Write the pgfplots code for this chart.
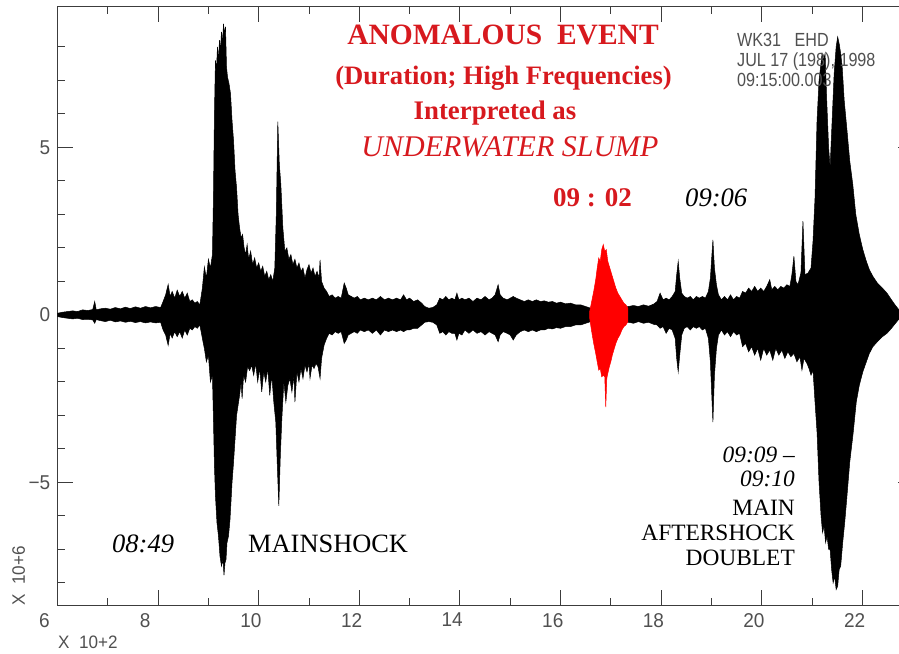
\documentclass[border=0pt]{standalone}
\usepackage{fontspec}
\setmainfont{Liberation Serif}
\newfontfamily\hfont[FakeStretch=0.85]{Liberation Sans}
\newfontfamily\tfont[FakeStretch=0.95]{Liberation Sans}
\usepackage{pgfplots}
\usepackage{pgfplotstable}
\pgfplotsset{compat=1.18}
\usepgfplotslibrary{fillbetween}
\usetikzlibrary{calc}
\definecolor{annred}{RGB}{215,25,30}
\definecolor{trred}{RGB}{255,0,0}
\definecolor{axgray}{RGB}{60,60,60}
\definecolor{lblgray}{RGB}{80,80,80}

\pgfplotstableread{
x y
6.00 0.05
6.10 0.08
6.20 0.10
6.30 0.12
6.40 0.10
6.50 0.15
6.60 0.13
6.70 0.16
6.74 0.40
6.77 0.15
6.85 0.18
6.95 0.20
7.05 0.17
7.15 0.22
7.25 0.18
7.35 0.23
7.45 0.19
7.55 0.24
7.65 0.20
7.75 0.25
7.85 0.21
7.95 0.25
8.05 0.22
8.10 0.40
8.15 0.60
8.20 0.91
8.24 0.55
8.28 0.70
8.33 0.50
8.38 0.74
8.43 0.55
8.48 0.70
8.53 0.50
8.58 0.65
8.63 0.40
8.68 0.45
8.73 0.35
8.78 0.40
8.83 0.30
8.88 0.80
8.92 1.43
8.96 1.10
9.00 1.66
9.04 1.40
9.08 1.80
9.10 3.50
9.12 6.00
9.14 7.60
9.16 7.30
9.18 8.00
9.20 7.60
9.22 8.20
9.24 7.90
9.26 8.45
9.28 8.10
9.30 8.69
9.32 8.40
9.34 8.60
9.36 7.40
9.38 7.10
9.41 6.90
9.44 6.60
9.47 5.80
9.50 5.20
9.53 4.30
9.56 3.80
9.59 3.00
9.62 2.60
9.65 2.30
9.68 2.40
9.71 2.00
9.74 1.80
9.77 2.10
9.80 1.66
9.84 1.90
9.88 1.50
9.92 1.70
9.96 1.40
10.00 1.55
10.04 1.30
10.08 1.45
10.12 1.15
10.16 1.30
10.20 1.05
10.24 1.20
10.28 1.00
10.32 1.40
10.35 3.00
10.38 5.77
10.41 4.50
10.44 3.90
10.48 2.60
10.52 1.90
10.56 2.00
10.60 1.66
10.64 1.80
10.68 1.50
10.72 1.66
10.76 1.40
10.80 1.55
10.84 1.30
10.88 1.40
10.92 1.10
10.96 1.35
11.00 1.50
11.04 1.25
11.08 1.40
11.12 1.15
11.16 1.30
11.20 1.10
11.22 1.64
11.25 1.00
11.30 0.80
11.35 0.70
11.40 0.55
11.46 0.60
11.52 0.50
11.58 0.55
11.64 0.50
11.70 0.95
11.74 0.80
11.78 0.60
11.84 0.55
11.90 0.50
11.96 0.55
12.02 0.45
12.10 0.50
12.18 0.45
12.26 0.50
12.34 0.45
12.42 0.55
12.50 0.45
12.58 0.50
12.66 0.45
12.74 0.50
12.82 0.45
12.88 0.60
12.94 0.45
13.00 0.50
13.08 0.40
13.16 0.45
13.24 0.35
13.30 0.25
13.38 0.20
13.46 0.22
13.54 0.30
13.60 0.50
13.66 0.45
13.72 0.55
13.78 0.45
13.84 0.50
13.90 0.45
13.94 0.65
13.98 0.45
14.04 0.50
14.10 0.45
14.18 0.50
14.26 0.40
14.34 0.50
14.42 0.45
14.50 0.55
14.58 0.45
14.64 0.50
14.70 0.60
14.76 0.90
14.80 0.60
14.86 0.50
14.94 0.45
15.00 0.50
15.06 0.55
15.12 0.50
15.20 0.45
15.28 0.40
15.36 0.45
15.44 0.40
15.52 0.45
15.60 0.40
15.68 0.42
15.76 0.38
15.84 0.40
15.92 0.35
16.00 0.38
16.10 0.33
16.20 0.35
16.30 0.30
16.40 0.30
16.50 0.25
16.60 0.20
16.80 0.20
17.00 0.20
17.20 0.20
17.35 0.25
17.45 0.28
17.55 0.25
17.65 0.30
17.75 0.26
17.85 0.32
17.92 0.40
17.98 0.65
18.04 0.45
18.10 0.50
18.16 0.45
18.22 0.55
18.28 0.70
18.31 1.20
18.34 1.60
18.37 1.10
18.41 0.65
18.46 0.55
18.52 0.50
18.58 0.55
18.64 0.45
18.70 0.55
18.76 0.50
18.82 0.55
18.88 0.50
18.94 0.70
18.98 1.10
19.01 1.80
19.03 2.24
19.06 1.40
19.10 0.90
19.14 0.60
19.20 0.45
19.26 0.55
19.32 0.45
19.38 0.60
19.44 0.45
19.50 0.55
19.56 0.50
19.62 0.70
19.68 0.65
19.74 0.80
19.80 0.70
19.86 0.85
19.92 0.70
19.98 0.80
20.04 0.70
20.10 0.85
20.16 1.05
20.20 0.75
20.26 0.85
20.32 0.75
20.38 0.85
20.44 0.80
20.50 0.90
20.56 0.85
20.60 1.20
20.64 1.75
20.68 1.00
20.72 0.90
20.78 1.25
20.82 2.80
20.86 1.20
20.92 1.25
20.98 1.40
21.02 2.20
21.06 3.50
21.10 5.80
21.14 7.00
21.17 7.40
21.20 7.80
21.23 7.60
21.26 7.80
21.29 6.50
21.33 5.00
21.36 4.40
21.40 5.80
21.44 7.20
21.48 8.00
21.51 8.30
21.54 8.10
21.57 7.80
21.60 7.40
21.64 6.40
21.69 5.60
21.75 4.60
21.81 3.90
21.87 3.00
21.94 2.40
22.01 1.95
22.08 1.60
22.14 1.35
22.21 1.15
22.30 0.95
22.40 0.80
22.49 0.65
22.58 0.45
22.66 0.28
22.73 0.15
}\uppertab

\pgfplotstableread{
x y
6.00 -0.05
6.10 -0.08
6.20 -0.10
6.30 -0.12
6.40 -0.10
6.50 -0.14
6.60 -0.13
6.70 -0.15
6.74 -0.25
6.77 -0.14
6.85 -0.17
6.95 -0.20
7.05 -0.16
7.15 -0.21
7.25 -0.18
7.35 -0.22
7.45 -0.19
7.55 -0.23
7.65 -0.20
7.75 -0.24
7.85 -0.21
7.95 -0.24
8.05 -0.22
8.10 -0.45
8.15 -0.60
8.20 -0.91
8.24 -0.55
8.28 -0.69
8.33 -0.50
8.38 -0.65
8.43 -0.50
8.48 -0.69
8.53 -0.45
8.58 -0.60
8.63 -0.40
8.68 -0.45
8.73 -0.35
8.78 -0.40
8.83 -0.30
8.88 -0.70
8.92 -1.00
8.96 -1.40
9.00 -1.20
9.04 -2.00
9.08 -1.80
9.10 -3.10
9.12 -4.50
9.14 -5.40
9.17 -6.20
9.20 -6.60
9.23 -7.20
9.26 -7.50
9.29 -7.30
9.31 -7.77
9.33 -7.40
9.35 -7.30
9.37 -6.80
9.40 -6.60
9.43 -6.10
9.47 -5.00
9.50 -4.40
9.53 -3.70
9.56 -3.00
9.59 -2.70
9.62 -2.40
9.65 -2.00
9.67 -2.50
9.70 -1.80
9.74 -2.00
9.78 -1.54
9.82 -1.66
9.86 -1.50
9.90 -1.80
9.94 -1.45
9.98 -2.00
10.02 -1.60
10.06 -2.30
10.10 -1.70
10.14 -2.00
10.18 -1.60
10.22 -2.40
10.26 -1.80
10.30 -2.60
10.34 -3.20
10.37 -4.50
10.40 -5.70
10.43 -4.20
10.46 -3.10
10.50 -2.00
10.54 -2.60
10.58 -2.10
10.62 -1.90
10.66 -2.30
10.70 -1.80
10.72 -2.60
10.76 -1.70
10.80 -2.00
10.84 -1.60
10.88 -1.90
10.92 -1.50
10.96 -1.70
11.00 -1.45
11.02 -1.90
11.06 -1.50
11.10 -1.60
11.14 -1.45
11.18 -1.55
11.22 -1.90
11.25 -1.30
11.30 -0.90
11.35 -0.70
11.40 -0.55
11.46 -0.60
11.52 -0.50
11.58 -0.55
11.64 -0.50
11.70 -0.85
11.74 -0.75
11.78 -0.60
11.84 -0.55
11.90 -0.50
11.96 -0.55
12.02 -0.45
12.10 -0.50
12.18 -0.45
12.26 -0.55
12.34 -0.45
12.42 -0.60
12.50 -0.45
12.58 -0.50
12.66 -0.45
12.74 -0.50
12.82 -0.45
12.88 -0.50
12.94 -0.45
13.00 -0.45
13.08 -0.40
13.16 -0.40
13.24 -0.30
13.30 -0.22
13.38 -0.20
13.46 -0.22
13.54 -0.30
13.60 -0.55
13.66 -0.50
13.72 -0.60
13.78 -0.50
13.84 -0.55
13.90 -0.55
13.94 -0.75
13.98 -0.55
14.04 -0.60
14.10 -0.45
14.18 -0.55
14.26 -0.45
14.34 -0.55
14.42 -0.50
14.50 -0.60
14.58 -0.50
14.64 -0.55
14.70 -0.60
14.76 -0.80
14.80 -0.60
14.86 -0.50
14.94 -0.55
15.00 -0.60
15.06 -0.75
15.12 -0.60
15.20 -0.50
15.28 -0.45
15.36 -0.50
15.44 -0.45
15.52 -0.50
15.60 -0.45
15.68 -0.45
15.76 -0.40
15.84 -0.42
15.92 -0.38
16.00 -0.40
16.10 -0.35
16.20 -0.35
16.30 -0.30
16.40 -0.30
16.50 -0.25
16.60 -0.20
16.80 -0.20
17.00 -0.20
17.20 -0.20
17.35 -0.22
17.45 -0.25
17.55 -0.20
17.65 -0.25
17.75 -0.22
17.85 -0.28
17.92 -0.30
17.98 -0.40
18.04 -0.35
18.10 -0.55
18.16 -0.40
18.22 -0.45
18.28 -0.70
18.31 -1.30
18.34 -1.70
18.37 -1.20
18.41 -0.60
18.46 -0.40
18.52 -0.35
18.58 -0.45
18.64 -0.35
18.70 -0.40
18.76 -0.35
18.82 -0.45
18.88 -0.40
18.94 -0.70
18.98 -1.40
19.01 -2.50
19.03 -3.20
19.06 -1.80
19.10 -1.00
19.14 -0.60
19.20 -0.45
19.26 -0.60
19.32 -0.50
19.38 -0.65
19.44 -0.50
19.50 -0.60
19.56 -0.55
19.62 -0.95
19.68 -0.85
19.74 -1.10
19.80 -0.95
19.86 -1.20
19.92 -1.00
19.98 -1.35
20.04 -1.00
20.10 -1.20
20.16 -1.05
20.22 -1.35
20.28 -1.00
20.34 -1.20
20.40 -1.05
20.46 -1.30
20.52 -1.10
20.58 -1.25
20.64 -1.15
20.70 -1.40
20.76 -1.25
20.80 -1.65
20.84 -1.30
20.90 -1.45
20.94 -1.60
20.98 -1.80
21.02 -1.65
21.06 -2.60
21.10 -3.50
21.14 -5.00
21.18 -6.00
21.21 -6.50
21.24 -6.30
21.27 -6.80
21.30 -6.60
21.33 -7.00
21.36 -7.00
21.39 -7.60
21.42 -8.00
21.45 -7.80
21.48 -8.20
21.51 -8.10
21.54 -7.60
21.57 -7.50
21.61 -6.80
21.65 -6.20
21.69 -5.50
21.75 -4.40
21.82 -3.50
21.88 -2.60
21.94 -2.10
22.01 -1.70
22.08 -1.40
22.14 -1.15
22.21 -0.95
22.30 -0.80
22.40 -0.65
22.49 -0.55
22.58 -0.40
22.66 -0.25
22.73 -0.12
}\lowertab

\pgfplotstableread{
x y
16.58 0.10
16.62 0.40
16.66 0.70
16.70 1.05
16.73 1.40
16.76 1.70
16.79 1.60
16.82 1.95
16.85 2.10
16.88 1.90
16.91 1.95
16.94 1.60
16.97 1.45
17.00 1.30
17.03 1.15
17.06 1.00
17.10 0.80
17.14 0.65
17.18 0.55
17.22 0.45
17.26 0.35
17.30 0.30
17.34 0.20
17.34 -0.20
17.30 -0.30
17.26 -0.35
17.22 -0.45
17.18 -0.60
17.14 -0.70
17.10 -0.85
17.06 -1.05
17.03 -1.20
17.00 -1.40
16.97 -1.55
16.94 -1.75
16.92 -1.90
16.90 -2.75
16.88 -1.85
16.85 -1.80
16.82 -1.85
16.79 -1.60
16.76 -1.65
16.73 -1.40
16.70 -1.15
16.66 -0.85
16.62 -0.50
16.58 -0.10
}\redpoly

\begin{document}
\begin{tikzpicture}
\begin{axis}[
  scale only axis, width=855.1pt, height=598.3pt,
  xmin=6, xmax=23, ymin=-8.66, ymax=9.2,
  axis line style={axgray, line width=0.9pt},
  xtick={6,8,10,12,14,16,18,20,22},
  xticklabels={6,8,10,12,14,16,18,20,22},
  minor xtick={7,9,11,13,15,17,19,21,23},
  ytick={-5,0,5}, yticklabels={−5,0,5},
  minor ytick={-8,-7,-6,-4,-3,-2,-1,1,2,3,4,6,7,8},
  tick align=inside,
  major tick length=15pt, minor tick length=7.5pt,
  tick style={axgray, line width=0.9pt},
  tick label style={font=\tfont\fontsize{20}{20}\selectfont, text=lblgray, inner sep=0pt},
  xticklabel style={anchor=north west, xshift=-18.5pt, yshift=-8pt},
  yticklabel style={anchor=east, xshift=-7pt},
]
\addplot[name path=U, draw=black, line width=0.5pt] table[x=x,y=y] {\uppertab};
\addplot[name path=L, draw=black, line width=0.5pt] table[x=x,y=y] {\lowertab};
\addplot[black] fill between[of=U and L];
\addplot[draw=trred, fill=trred, line width=0.5pt] table[x=x,y=y] {\redpoly} -- cycle;
\coordinate (O) at (axis cs:6,-8.66);
\end{axis}

\begin{scope}[shift={($(O)+(-57.5pt,605pt)$)}, x=1pt, y=-1pt, every node/.style={inner sep=0pt}]
  \node[anchor=base, text=annred, font=\bfseries\fontsize{29.5}{30}\selectfont] at (503,45) {ANOMALOUS\ \ EVENT};
  \node[anchor=base, text=annred, font=\bfseries\fontsize{26.6}{28}\selectfont] at (503.5,85) {(Duration; High Frequencies)};
  \node[anchor=base, text=annred, font=\bfseries\fontsize{26.8}{28}\selectfont] at (495,120) {Interpreted as};
  \node[anchor=base, text=annred, font=\itshape\fontsize{30}{30}\selectfont] at (510,157) {UNDERWATER SLUMP};
  \node[anchor=base west, text=annred, font=\bfseries\fontsize{27}{27}\selectfont] at (553,207) {09 : 02};
  \node[anchor=base west, font=\itshape\fontsize{26.6}{27}\selectfont] at (685,207) {09:06};
  \node[anchor=base east, font=\itshape\fontsize{23.4}{24}\selectfont] at (795,463) {09:09 –};
  \node[anchor=base east, font=\itshape\fontsize{23.4}{24}\selectfont] at (795,487) {09:10};
  \node[anchor=base east, font=\fontsize{23.4}{24}\selectfont] at (795,516) {MAIN};
  \node[anchor=base east, font=\fontsize{23.4}{24}\selectfont] at (795,541) {AFTERSHOCK};
  \node[anchor=base east, font=\fontsize{23.4}{24}\selectfont] at (795,565) {DOUBLET};
  \node[anchor=base west, font=\itshape\fontsize{26.5}{27}\selectfont] at (112,552) {08:49};
  \node[anchor=base west, font=\fontsize{26.4}{27}\selectfont] at (248,552) {MAINSHOCK};
  \node[anchor=base west, text=lblgray, font=\hfont\fontsize{19}{19}\selectfont] at (737,47) {WK31\ \ \ EHD};
  \node[anchor=base west, text=lblgray, font=\hfont\fontsize{19}{19}\selectfont] at (737,67) {JUL 17 (198), 1998};
  \node[anchor=base west, text=lblgray, font=\hfont\fontsize{19}{19}\selectfont] at (737,87) {09:15:00.003};
  \node[anchor=base west, text=lblgray, font=\tfont\fontsize{18}{18}\selectfont] at (58,648) {X\ \ 10+2};
  \node[anchor=base west, rotate=90, text=lblgray, font=\tfont\fontsize{18}{18}\selectfont] at (25,606) {X\ \ 10+6};
\end{scope}
\pgfresetboundingbox
\path[use as bounding box] ($(O)+(-57.5pt,-48pt)$) rectangle ($(O)+(841.5pt,605pt)$);
\end{tikzpicture}
\end{document}
